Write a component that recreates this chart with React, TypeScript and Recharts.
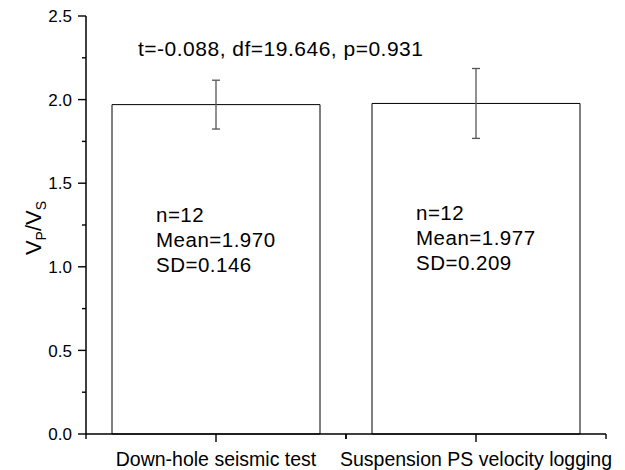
import React from 'react';
import { BarChart, Bar, XAxis, YAxis, ErrorBar, LabelList, Customized } from 'recharts';

// Vp/Vs ratio by measurement method
const methods = ['Down-hole seismic test', 'Suspension PS velocity logging'];
const meanRatio = [1.97, 1.977];
const sdRatio = [0.146, 0.209];
const sampleCount = [12, 12];

const yTicks = [0, 0.25, 0.5, 0.75, 1, 1.25, 1.5, 1.75, 2, 2.25, 2.5];
const majorYTicks = [0, 0.5, 1, 1.5, 2, 2.5];
const testSummary = 't=-0.088, df=19.646, p=0.931';

const data = methods.map((method, i) => ({
  method,
  mean: meanRatio[i],
  sd: sdRatio[i],
  note: [`n=${sampleCount[i]}`, `Mean=${meanRatio[i].toFixed(3)}`, `SD=${sdRatio[i].toFixed(3)}`].join('|'),
}));

const FONT = "Arial, 'Liberation Sans', sans-serif";
const WIDTH = 625;
const HEIGHT = 470;
const MARGIN = { top: 16, right: 19, bottom: 0, left: 0 };
const Y_AXIS_WIDTH = 86;
const X_AXIS_HEIGHT = 36;
const PLOT_WIDTH = WIDTH - MARGIN.left - MARGIN.right - Y_AXIS_WIDTH;
const HALF_BAND = PLOT_WIDTH / methods.length / 2;

const YTick = (props: any) => {
  const { x, y, payload } = props;
  const v = Number(payload.value);
  const major = majorYTicks.includes(v);
  return (
    <g>
      <line x1={x - (major ? 8 : 4)} x2={x} y1={y} y2={y} stroke="#000" strokeWidth={1.4} />
      {major && (
        <text x={x - 14} y={y} dy="0.36em" textAnchor="end" fontSize={17} fill="#000" fontFamily={FONT}>
          {v.toFixed(1)}
        </text>
      )}
    </g>
  );
};

const XTick = (props: any) => {
  const { x, y, payload } = props;
  return (
    <g>
      <line x1={x} x2={x} y1={y} y2={y + 8} stroke="#000" strokeWidth={1.4} />
      <line x1={x - HALF_BAND} x2={x - HALF_BAND} y1={y} y2={y + 5} stroke="#000" strokeWidth={1.4} />
      <line x1={x + HALF_BAND} x2={x + HALF_BAND} y1={y} y2={y + 5} stroke="#000" strokeWidth={1.4} />
      <text x={x} y={y + 32} textAnchor="middle" fontSize={19.5} fill="#000" fontFamily={FONT}>
        {payload.value}
      </text>
    </g>
  );
};

const YLabel = () => {
  const cx = 41;
  const cy = 228;
  return (
    <text
      x={cx}
      y={cy}
      transform={`rotate(-90 ${cx} ${cy})`}
      textAnchor="middle"
      fontSize={22}
      fill="#000"
      fontFamily={FONT}
    >
      V
      <tspan fontSize={14} dy={5}>P</tspan>
      <tspan dy={-5}>/V</tspan>
      <tspan fontSize={14} dy={5}>S</tspan>
    </text>
  );
};

const BarNote = (props: any) => {
  const vb = props.viewBox || {};
  const x = vb.x ?? props.x;
  const y = vb.y ?? props.y;
  const lines = String(props.value).split('|');
  return (
    <text fontSize={20.5} fill="#000" fontFamily={FONT} letterSpacing={0.5}>
      {lines.map((line, i) => (
        <tspan key={i} x={x + 44} y={y + 117 + i * 25}>
          {line}
        </tspan>
      ))}
    </text>
  );
};

const Summary = () => (
  <text x={138} y={56} fontSize={21} fill="#000" fontFamily={FONT} letterSpacing={0.5}>
    {testSummary}
  </text>
);

export default function App() {
  return (
    <div style={{ position: 'absolute', left: 0, top: 0, background: '#fff' }}>
      <BarChart width={WIDTH} height={HEIGHT} data={data} margin={MARGIN} barCategoryGap="10%">
        <XAxis
          dataKey="method"
          type="category"
          height={X_AXIS_HEIGHT}
          axisLine={{ stroke: '#000', strokeWidth: 1.5 }}
          tickLine={false}
          tickSize={0}
          tickMargin={0}
          tick={<XTick />}
          interval={0}
        />
        <YAxis
          type="number"
          domain={[0, 2.5]}
          ticks={yTicks}
          width={Y_AXIS_WIDTH}
          axisLine={{ stroke: '#000', strokeWidth: 1.5 }}
          tickLine={false}
          tickSize={0}
          tickMargin={0}
          tick={<YTick />}
          interval={0}
          label={<YLabel />}
        />
        <Bar dataKey="mean" fill="#fff" stroke="#000" strokeWidth={1} isAnimationActive={false}>
          <ErrorBar dataKey="sd" width={4} stroke="#555" strokeWidth={1.3} direction="y" isAnimationActive={false} />
          <LabelList dataKey="note" content={<BarNote />} />
        </Bar>
        <Customized component={<Summary />} />
      </BarChart>
    </div>
  );
}
